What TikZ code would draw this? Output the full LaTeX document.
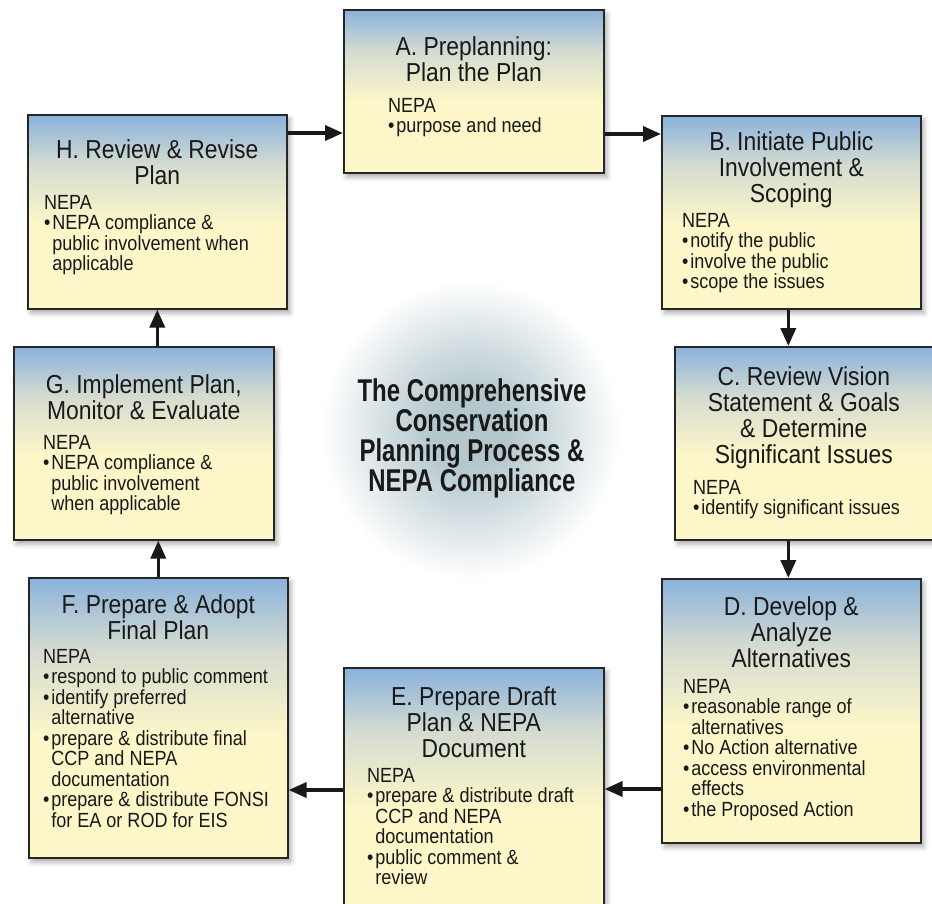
\documentclass[tikz,border=0pt]{standalone}
\usepackage{fontspec}
\setmainfont{Liberation Sans}[FakeStretch=0.88]
\newfontfamily\hubfont{Liberation Sans}[FakeStretch=0.76]
\usetikzlibrary{arrows.meta,positioning,shadows.blur}

\definecolor{boxblue}{HTML}{8AB2DC}
\definecolor{boxgray}{HTML}{D5DCD0}
\definecolor{boxyellow}{HTML}{FCF6C8}
\definecolor{glow}{HTML}{B3C7CC}
\pgfdeclareverticalshading{stageshade}{100bp}{color(0bp)=(boxyellow); color(25bp)=(boxyellow); color(47bp)=(boxyellow); color(62bp)=(boxgray); color(75bp)=(boxblue); color(100bp)=(boxblue)}
\pgfdeclareradialshading{hubglow}{\pgfpoint{0bp}{0bp}}{color(0bp)=(glow); color(6bp)=(glow); color(15bp)=(glow!55); color(25bp)=(white); color(50bp)=(white)}

\newcommand{\bul}{\textbullet\hspace{2pt}}
\newcommand{\cont}{\phantom{\bul}}

\begin{document}
\begin{tikzpicture}[x=1pt,y=-1pt,
	stage/.style={shade,shading=stageshade,draw=black!85,line width=1.6pt,inner sep=0pt,
		blur shadow={shadow xshift=3pt,shadow yshift=-4pt,shadow blur radius=5pt,shadow opacity=35}},
	stagetitle/.style={align=center,inner sep=0pt,outer sep=0pt,text=black!90,font=\fontsize{26}{26}\selectfont},
	stagebody/.style={align=left,inner sep=0pt,outer sep=0pt,text=black!90,font=\fontsize{20.5}{20.5}\selectfont},
	flow/.style={-{Triangle[length=18pt,width=15pt]},line width=3.6pt,black!90},
	hub/.style={align=center,text=black!90,font=\hubfont\bfseries\fontsize{31.5}{30}\selectfont}]

	\useasboundingbox (0,0) rectangle (932,903);
	\shade[shading=hubglow] (471,430) circle[radius=150];
	\node[hub] (hub) at (472,438) {The Comprehensive\\Conservation\\Planning Process \&\\NEPA Compliance};

	% stage boxes
	\node[stage,minimum width=260pt,minimum height=163pt,anchor=north west] (abox) at (343,9) {};
	\node[stage,minimum width=259pt,minimum height=193pt,anchor=north west] (bbox) at (661,115) {};
	\node[stage,minimum width=258pt,minimum height=193pt,anchor=north west] (cbox) at (674,346) {};
	\node[stage,minimum width=259pt,minimum height=264pt,anchor=north west] (dbox) at (661,578) {};
	\node[stage,minimum width=260pt,minimum height=250pt,anchor=north west] (ebox) at (343,667) {};
	\node[stage,minimum width=259pt,minimum height=280pt,anchor=north west] (fbox) at (28,577) {};
	\node[stage,minimum width=260pt,minimum height=193pt,anchor=north west] (gbox) at (13,346) {};
	\node[stage,minimum width=259pt,minimum height=194pt,anchor=north west] (hbox) at (27,114) {};

	% titles
	\node[stagetitle,below=28pt of abox.north] (atitle) {A. Preplanning:\\Plan the Plan};
	\node[stagetitle,below=17pt of bbox.north] (btitle) {B. Initiate Public\\Involvement \&\\Scoping};
	\node[stagetitle,below=21pt of cbox.north] (ctitle) {C. Review Vision\\Statement \& Goals\\\& Determine\\Significant Issues};
	\node[stagetitle,below=19pt of dbox.north] (dtitle) {D. Develop \&\\Analyze\\Alternatives};
	\node[stagetitle,below=20pt of ebox.north] (etitle) {E. Prepare Draft\\Plan \& NEPA\\Document};
	\node[stagetitle,below=18pt of fbox.north] (ftitle) {F. Prepare \& Adopt\\Final Plan};
	\node[stagetitle,below=29pt of gbox.north] (gtitle) {G. Implement Plan,\\Monitor \& Evaluate};
	\node[stagetitle,below=26pt of hbox.north] (htitle) {H. Review \& Revise\\Plan};

	% NEPA lists
	\node[stagebody,below right=89pt and 45pt of abox.north west] (abody) {NEPA\\\bul purpose and need};
	\node[stagebody,below right=98pt and 21pt of bbox.north west] (bbody) {NEPA\\\bul notify the public\\\bul involve the public\\\bul scope the issues};
	\node[stagebody,below right=134pt and 19pt of cbox.north west] (cbody) {NEPA\\\bul identify significant issues};
	\node[stagebody,below right=101pt and 22pt of dbox.north west] (dbody) {NEPA\\\bul reasonable range of\\\cont alternatives\\\bul No Action alternative\\\bul access environmental\\\cont effects\\\bul the Proposed Action};
	\node[stagebody,below right=101pt and 24pt of ebox.north west] (ebody) {NEPA\\\bul prepare \& distribute draft\\\cont CCP and NEPA\\\cont documentation\\\bul public comment \&\\\cont review};
	\node[stagebody,below right=72pt and 15pt of fbox.north west] (fbody) {NEPA\\\bul respond to public comment\\\bul identify preferred\\\cont alternative\\\bul prepare \& distribute final\\\cont CCP and NEPA\\\cont documentation\\\bul prepare \& distribute FONSI\\\cont for EA or ROD for EIS};
	\node[stagebody,below right=89pt and 30pt of gbox.north west] (gbody) {NEPA\\\bul NEPA compliance \&\\\cont public involvement\\\cont when applicable};
	\node[stagebody,below right=81pt and 17pt of hbox.north west] (hbody) {NEPA\\\bul NEPA compliance \&\\\cont public involvement when\\\cont applicable};

	% connectors
	\coordinate (ha) at ([yshift=-19pt]hbox.north east);
	\coordinate (ab) at ([yshift=-125pt]abox.north east);
	\coordinate (bc) at ([xshift=-3pt]bbox.south);
	\coordinate (cd) at ([xshift=-3pt]dbox.north);
	\coordinate (de) at ([yshift=-211pt]dbox.north west);
	\coordinate (ef) at ([yshift=-123pt]ebox.north west);
	\draw[flow] (ha) -- (ha -| abox.west);
	\draw[flow] (ab) -- (ab -| bbox.west);
	\draw[flow] (bc) -- (bc |- cbox.north);
	\draw[flow] (cd |- cbox.south) -- (cd);
	\draw[flow] (de) -- (de -| ebox.east);
	\draw[flow] (ef) -- (ef -| fbox.east);
	\draw[flow] (fbox.north) -- (fbox.north |- gbox.south);
	\draw[flow] (hbox.south |- gbox.north) -- (hbox.south);
\end{tikzpicture}
\end{document}
